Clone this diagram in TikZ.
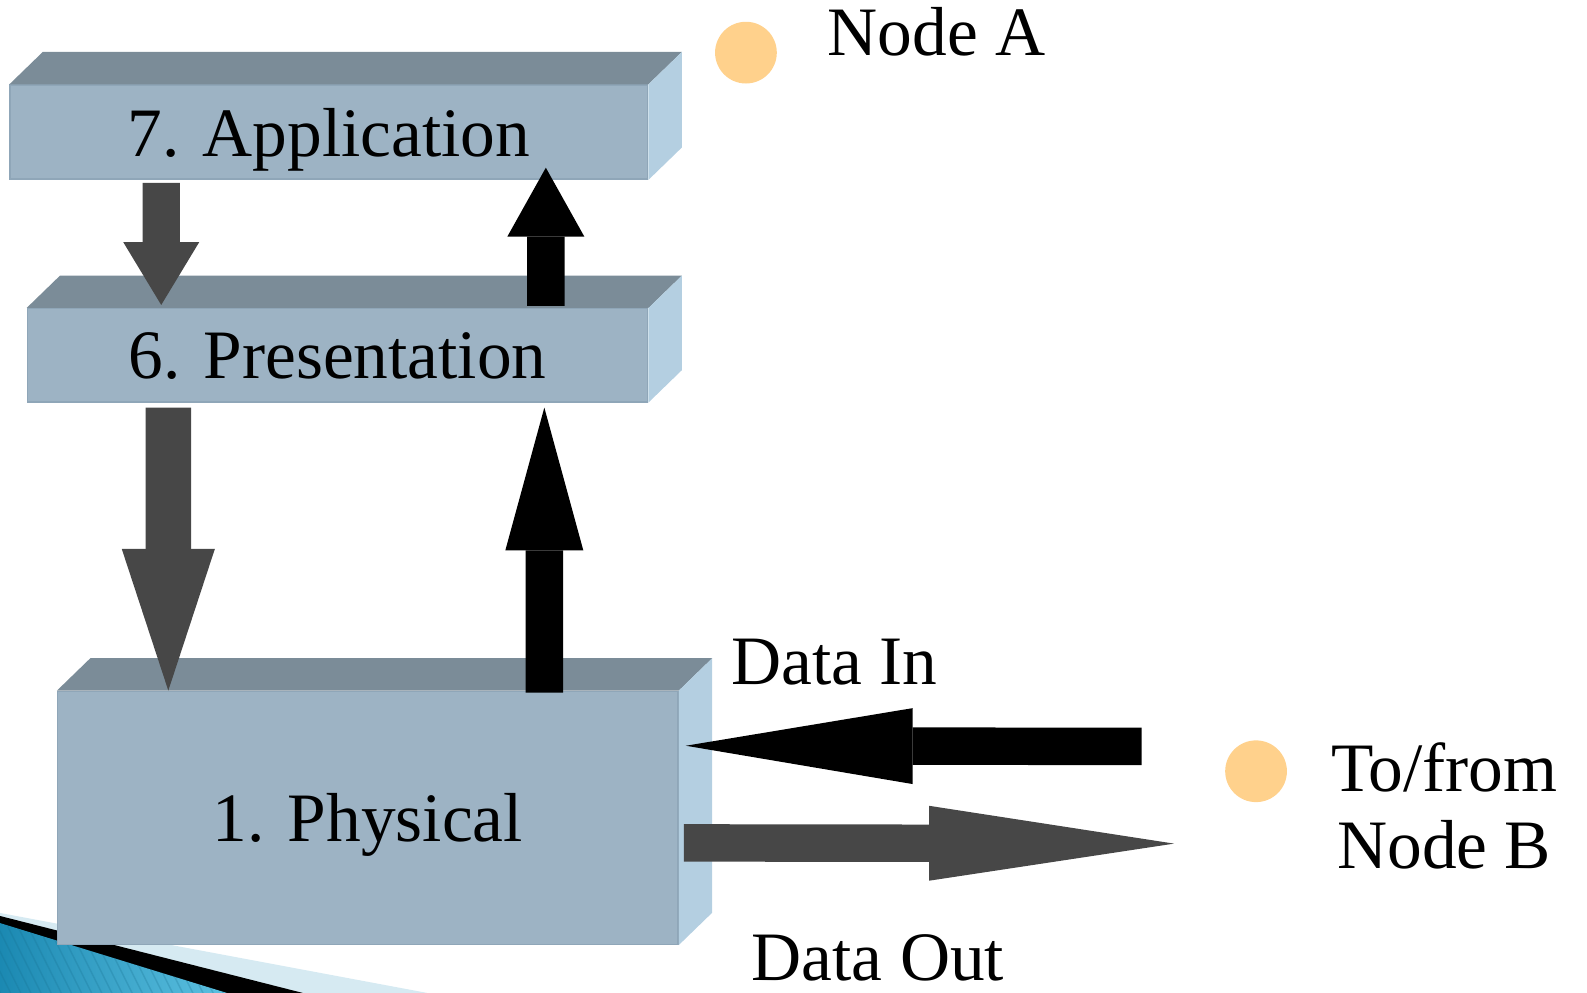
\documentclass[tikz,border=0pt]{standalone}
\usepackage{fontspec}
\setmainfont{Liberation Serif}
\usetikzlibrary{arrows.meta}

\definecolor{frontc}{HTML}{9DB3C4}
\definecolor{topc}{HTML}{7B8C98}
\definecolor{sidec}{HTML}{B4CFE1}
\definecolor{edgec}{HTML}{8FA6B8}
\definecolor{darkarrow}{HTML}{474747}
\definecolor{bulletc}{HTML}{FFD18C}
\definecolor{paleblue}{HTML}{D6EAF2}
\definecolor{tealdark}{HTML}{1B89B2}
\definecolor{teallight}{HTML}{5EC2E2}

\begin{document}
\begin{tikzpicture}[
    osibox/.style={rectangle, fill=frontc, draw=edgec, line width=0.4pt, inner sep=0pt, text depth=0pt, font=\fontsize{19.5}{23}\selectfont},
    topface/.style={fill=topc},
    sideface/.style={fill=sidec},
    flow/.style n args={4}{draw=#1, line width=#2, -{Triangle[width=#3,length=#4,line width=0pt]}},
    bulletdot/.style={circle, fill=bulletc, minimum size=0.61cm, inner sep=0pt},
    lbl/.style={inner sep=0pt, font=\fontsize{19.5}{21.6}\selectfont}
]
\useasboundingbox (0,0) rectangle (15.68,-9.81);

% corner ornament
\fill[paleblue] (0,-9.02) -- (4.22,-9.81) -- (0,-9.81) -- cycle;
\fill[black] (0,-9.05) -- (2.99,-9.81) -- (0,-9.81) -- cycle;
\begin{scope}
  \clip (0,-9.12) -- (2.24,-9.81) -- (0,-9.81) -- cycle;
  \shade[left color=tealdark, right color=teallight] (0,-9.1) rectangle (2.3,-9.81);
  \foreach \s in {-0.6,-0.5,...,2.4}
    \draw[tealdark!80!black, opacity=0.25, line width=0.4pt] (\s,-9.0) -- ++(0.45,-0.9);
\end{scope}

% layers
\node[osibox, minimum width=6.30cm, minimum height=0.93cm] (app) at (3.25,-1.305) {7. Application};
\node[osibox, minimum width=6.13cm, minimum height=0.92cm] (pres) at (3.335,-3.51) {6. Presentation};
\node[osibox, minimum width=6.13cm, minimum height=2.50cm] (phys) at (3.635,-8.08) {1. Physical};

\foreach \b in {app,pres,phys} {
  \fill[topface] (\b.north west) -- ++(0.33,0.32) -- ([shift={(0.33,0.32)}]\b.north east) -- (\b.north east) -- cycle;
  \fill[sideface] (\b.north east) -- ++(0.33,0.32) -- ([shift={(0.33,0.32)}]\b.south east) -- (\b.south east) -- cycle;
}

% flows between layers
\draw[flow={darkarrow}{0.37cm}{0.75cm}{0.62cm}] ([shift={(1.50,-0.03)}]app.south west) -- ([shift={(1.33,0.03)}]pres.north west);
\draw[flow={black}{0.37cm}{0.76cm}{0.68cm}] ([shift={(5.13,0.02)}]pres.north west) -- ([shift={(5.30,0.12)}]app.south west);
\draw[flow={darkarrow}{0.45cm}{0.92cm}{1.40cm}] ([shift={(1.40,-0.05)}]pres.south west) -- ([xshift=1.10cm]phys.north west);
\draw[flow={black}{0.37cm}{0.77cm}{1.41cm}] ([shift={(4.815,-0.02)}]phys.north west) -- ([shift={(5.115,-0.05)}]pres.south west);

% data in / out
\coordinate (inend) at (11.28,-7.375);
\coordinate (outend) at (11.60,-8.335);
\draw[flow={black}{0.37cm}{0.75cm}{2.24cm}] (inend) -- ([shift={(0.07,-0.545)}]phys.north east);
\draw[flow={darkarrow}{0.37cm}{0.74cm}{2.42cm}] ([shift={(0.05,-1.505)}]phys.north east) -- (outend);

% labels
\node[bulletdot] (dotA) at (7.37,-0.52) {};
\node[lbl, anchor=base west] (nodeA) at (8.17,-0.55) {Node A};
\node[lbl, anchor=base west] (datain) at (7.22,-6.76) {Data In};
\node[lbl, anchor=base west] (dataout) at (7.42,-9.69) {Data Out};
\node[bulletdot] (dotB) at (12.41,-7.62) {};
\node[lbl, align=center] (nodeB) at (14.27,-7.96) {To/from\\Node B};
\end{tikzpicture}
\end{document}
